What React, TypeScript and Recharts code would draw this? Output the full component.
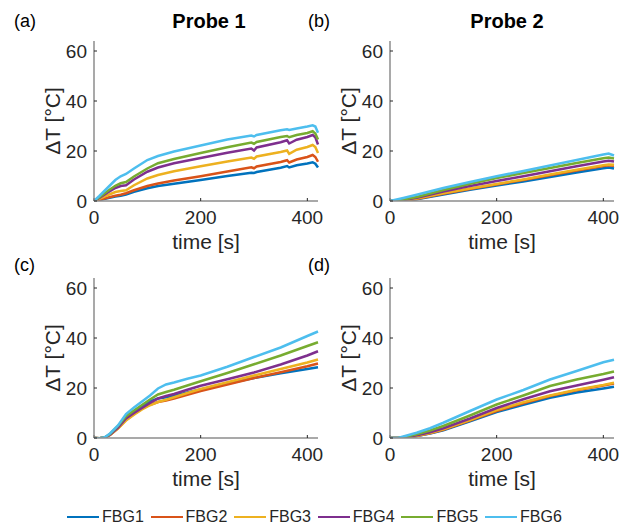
import React from 'react';
import { LineChart, Line, XAxis, YAxis } from 'recharts';

const SERIES = ['FBG1', 'FBG2', 'FBG3', 'FBG4', 'FBG5', 'FBG6'];
const COLORS = ['#0072BD', '#D95319', '#EDB120', '#7E2F8E', '#77AC30', '#4DBEEE'];
const X_TICKS = [0, 200, 400];
const Y_TICKS = [0, 20, 40, 60];

// (a) Probe 1, top
const A_T = [0, 10, 25, 40, 50, 60, 75, 100, 120, 150, 200, 250, 295, 300, 305, 350, 362, 366, 380, 400, 410, 415, 420];
const A_Y = [
  [0, 0.4, 1.1, 1.8, 2.1, 2.6, 3.7, 5.1, 6.0, 6.9, 8.4, 10.0, 11.3, 11.2, 11.6, 13.3, 14.0, 13.4, 14.3, 15.0, 15.5, 14.9, 13.4],
  [0, 0.5, 1.3, 2.1, 2.5, 3.1, 4.3, 6.0, 7.0, 8.2, 9.9, 11.8, 13.5, 13.1, 13.8, 15.6, 16.3, 15.4, 16.6, 17.6, 18.4, 17.6, 15.7],
  [0, 0.9, 2.3, 3.6, 4.0, 4.3, 6.3, 9.0, 10.4, 11.9, 13.9, 15.8, 17.4, 16.9, 17.8, 19.6, 20.2, 18.9, 20.5, 21.6, 22.4, 21.6, 19.2],
  [0, 1.2, 3.3, 5.2, 6.0, 6.3, 8.6, 11.7, 13.4, 15.1, 17.2, 19.3, 21.0, 20.2, 21.4, 23.5, 24.3, 23.0, 24.5, 25.6, 26.4, 25.5, 22.6],
  [0, 1.5, 3.9, 6.1, 7.1, 7.6, 9.8, 13.0, 15.1, 16.8, 19.2, 21.5, 23.4, 22.9, 23.6, 25.6, 26.0, 25.5, 26.4, 27.2, 27.9, 27.0, 24.6],
  [0, 2.0, 5.2, 8.4, 9.9, 10.8, 13.0, 16.4, 18.0, 19.8, 22.2, 24.6, 26.2, 25.8, 26.4, 28.3, 28.7, 28.4, 29.0, 29.8, 30.3, 29.8, 27.3],
];

// (b) Probe 2, top
const B_T = [0, 25, 50, 100, 150, 200, 250, 300, 350, 400, 410, 420];
const B_Y = [
  [0, 0.2, 0.7, 2.6, 4.5, 6.2, 7.8, 9.6, 11.4, 13.1, 13.4, 13.0],
  [0, 0.2, 0.8, 2.9, 4.8, 6.6, 8.4, 10.3, 12.2, 14.0, 14.3, 14.1],
  [0, 0.3, 1.0, 3.1, 5.0, 6.8, 8.6, 10.6, 12.5, 14.3, 14.6, 14.5],
  [0, 0.4, 1.3, 3.8, 6.0, 8.0, 9.9, 11.9, 13.9, 15.8, 16.1, 15.8],
  [0, 0.6, 1.6, 4.4, 6.9, 9.2, 11.2, 13.2, 15.2, 17.1, 17.4, 17.0],
  [0, 1.2, 2.5, 5.2, 7.6, 9.9, 12.0, 14.2, 16.4, 18.6, 19.0, 18.2],
];

// (c) Probe 1, bottom
const C_T = [0, 10, 20, 30, 45, 60, 75, 90, 105, 120, 135, 150, 175, 200, 250, 300, 350, 400, 420];
const C_Y = [
  [0, -0.1, 0.2, 1.4, 4.3, 8.0, 10.6, 12.8, 14.6, 15.8, 16.3, 16.9, 18.2, 19.4, 21.8, 24.0, 25.9, 27.6, 28.3],
  [0, -0.1, 0.1, 1.2, 3.9, 7.2, 9.6, 11.7, 13.3, 14.4, 15.0, 15.8, 17.3, 18.8, 21.4, 24.0, 26.3, 28.7, 29.8],
  [0, -0.1, 0.1, 1.2, 3.8, 7.0, 9.3, 11.4, 13.1, 14.4, 15.3, 16.3, 18.0, 19.6, 22.3, 25.0, 27.6, 30.2, 31.4],
  [0, -0.1, 0.1, 1.3, 4.2, 7.8, 10.0, 12.0, 14.0, 15.8, 16.8, 17.6, 19.3, 20.9, 23.5, 26.2, 29.4, 33.0, 34.7],
  [0, -0.1, 0.2, 1.6, 4.8, 8.7, 11.0, 13.2, 15.4, 17.4, 18.4, 19.3, 21.0, 22.7, 26.0, 29.5, 33.0, 36.8, 38.3],
  [0, -0.2, 0.3, 1.8, 5.0, 9.6, 12.2, 14.6, 17.0, 19.8, 21.4, 22.2, 23.7, 25.0, 28.5, 32.4, 36.2, 40.8, 42.6],
];

// (d) Probe 2, bottom
const D_T = [0, 15, 25, 50, 75, 100, 150, 200, 250, 300, 350, 400, 420];
const D_Y = [
  [0, 0, 0.1, 0.8, 1.8, 3.1, 6.7, 10.4, 13.3, 16.1, 18.2, 19.8, 20.5],
  [0, 0, 0.1, 0.8, 1.9, 3.3, 7.0, 10.8, 13.9, 16.8, 19.1, 21.0, 21.8],
  [0, 0, 0.1, 0.9, 2.0, 3.5, 7.2, 11.2, 14.3, 17.0, 19.3, 21.2, 22.1],
  [0, 0, 0.2, 1.1, 2.3, 3.9, 7.8, 12.0, 15.5, 18.7, 21.0, 23.3, 24.3],
  [0, 0, 0.3, 1.5, 3.0, 4.8, 9.0, 13.4, 17.0, 20.8, 23.4, 25.6, 26.6],
  [0, 0, 0.6, 2.1, 3.9, 6.1, 10.8, 15.4, 19.2, 23.4, 26.8, 30.3, 31.3],
];

const FONT = '"Liberation Sans", Arial, Helvetica, sans-serif';
const INK = '#262626';

const YLabel = ({ viewBox }: any) => (
  <text
    transform={`translate(${viewBox.x + 28},${viewBox.y + viewBox.height / 2}) rotate(-90)`}
    textAnchor="middle" dominantBaseline="central" fontSize={21} fill={INK} fontFamily={FONT}
  >
    ΔT [°C]
  </text>
);

const XLabel = ({ viewBox }: any) => (
  <text
    x={viewBox.x + viewBox.width / 2} y={viewBox.y + 40}
    textAnchor="middle" dominantBaseline="central" fontSize={21} fill={INK} fontFamily={FONT}
  >
    time [s]
  </text>
);

function Panel({ left, top, t, ys }: { left: number; top: number; t: number[]; ys: number[][] }) {
  const rows = t.map((x, i) => {
    const r: Record<string, number> = { t: x };
    SERIES.forEach((s, k) => { r[s] = ys[k][i]; });
    return r;
  });
  return (
    <div style={{ position: 'absolute', left, top }}>
      <LineChart width={299} height={232} data={rows} margin={{ top: 10, right: 5, left: 0, bottom: 12 }}>
        <XAxis
          dataKey="t" type="number" domain={[0, 420]} ticks={X_TICKS} height={50}
          axisLine={{ stroke: '#8c8c8c', strokeWidth: 1.5 }} tickLine={{ stroke: INK }}
          tickSize={-3} tickMargin={13}
          tick={{ fontSize: 19, fill: INK, fontFamily: FONT }}
          label={<XLabel />}
        />
        <YAxis
          type="number" domain={[0, 64]} ticks={Y_TICKS} width={70} allowDataOverflow
          axisLine={{ stroke: '#8c8c8c', strokeWidth: 1.5 }} tickLine={{ stroke: INK }}
          tickSize={-3} tickMargin={10}
          tick={{ fontSize: 19, fill: INK, fontFamily: FONT }}
          label={<YLabel />}
        />
        {SERIES.map((s, k) => (
          <Line
            key={s} dataKey={s} stroke={COLORS[k]} strokeWidth={2.5} dot={false}
            type="linear" isAnimationActive={false}
          />
        ))}
      </LineChart>
    </div>
  );
}

const textStyle = (left: number, top: number, extra = {}) => ({
  position: 'absolute' as const, left, top, lineHeight: '20px', color: '#000', fontFamily: FONT, ...extra,
});

export default function App() {
  return (
    <div style={{ position: 'absolute', left: 0, top: 0, width: 629, height: 527, background: '#fff', fontFamily: FONT }}>
      <Panel left={24} top={31} t={A_T} ys={A_Y} />
      <Panel left={320} top={31} t={B_T} ys={B_Y} />
      <Panel left={24} top={268} t={C_T} ys={C_Y} />
      <Panel left={320} top={268} t={D_T} ys={D_Y} />

      <div style={textStyle(14, 11, { fontSize: 18 })}>(a)</div>
      <div style={textStyle(308, 11, { fontSize: 18 })}>(b)</div>
      <div style={textStyle(14, 255, { fontSize: 18 })}>(c)</div>
      <div style={textStyle(308, 255, { fontSize: 18 })}>(d)</div>
      <div style={textStyle(159, 11, { fontSize: 20, fontWeight: 'bold', width: 100, textAlign: 'center' })}>Probe 1</div>
      <div style={textStyle(457, 11, { fontSize: 20, fontWeight: 'bold', width: 100, textAlign: 'center' })}>Probe 2</div>

      {SERIES.map((s, k) => (
        <div key={s} style={{ position: 'absolute', left: 67 + k * 83.6, top: 507, height: 20, display: 'flex', alignItems: 'center' }}>
          <div style={{ width: 32, height: 2, background: COLORS[k] }} />
          <span style={{ marginLeft: 3, fontSize: 16, color: INK, fontFamily: FONT }}>{s}</span>
        </div>
      ))}
    </div>
  );
}
